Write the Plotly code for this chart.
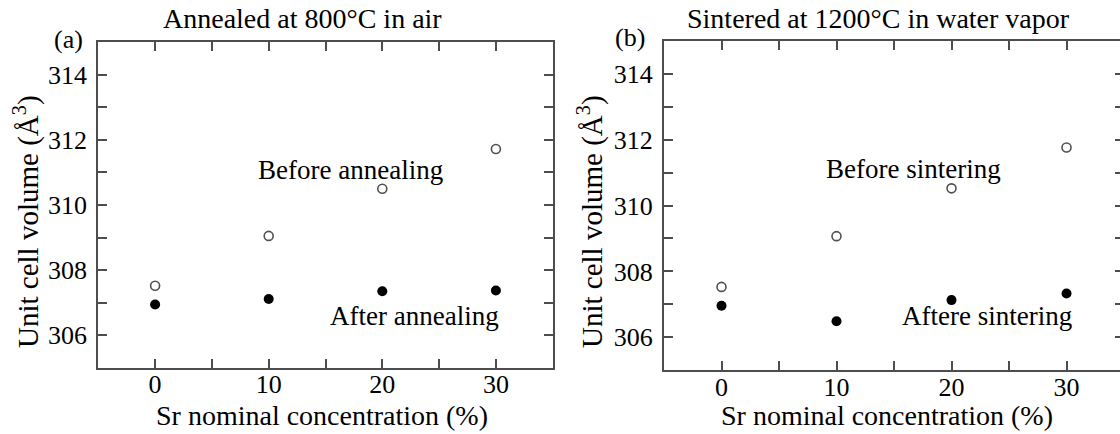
import plotly.graph_objects as go

# ---- data ----
sr_conc = [0, 10, 20, 30]
a_before = [307.52, 309.05, 310.50, 311.72]
a_after = [306.94, 307.11, 307.35, 307.37]
b_before = [307.53, 309.07, 310.52, 311.76]
b_after = [306.96, 306.49, 307.13, 307.33]

x_ticks = [0, 10, 20, 30]
y_ticks = [306, 308, 310, 312, 314]

titles = ["Annealed at 800°C in air", "Sintered at 1200°C in water vapor"]
panel_tags = ["(a)", "(b)"]
x_title = "Sr nominal concentration (%)"
y_title = "Unit cell volume (Å<sup>3</sup>)"
a_labels = ["Before annealing", "After annealing"]
b_labels = ["Before sintering", "Aftere sintering"]

W, H = 1120, 434
FONT = "Liberation Serif, Times New Roman, serif"
AX = "#4d4d4d"

def px(x):
    return x / W

def py(y):
    return 1 - y / H

fig = go.Figure()

open_m = dict(symbol="circle-open", size=9, color="#505050", line=dict(width=1.6, color="#505050"))
fill_m = dict(symbol="circle", size=10, color="black")

fig.add_trace(go.Scatter(x=sr_conc, y=a_before, mode="markers", marker=open_m, xaxis="x", yaxis="y"))
fig.add_trace(go.Scatter(x=sr_conc, y=a_after, mode="markers", marker=fill_m, xaxis="x", yaxis="y"))
fig.add_trace(go.Scatter(x=sr_conc, y=b_before, mode="markers", marker=open_m, xaxis="x2", yaxis="y2"))
fig.add_trace(go.Scatter(x=sr_conc, y=b_after, mode="markers", marker=fill_m, xaxis="x2", yaxis="y2"))
fig.add_trace(go.Scatter(x=[], y=[], xaxis="x2", yaxis="y3", showlegend=False, hoverinfo="skip"))

tickfont = dict(family=FONT, size=26, color="black")

def xax(domain, rng, anchor, mirror):
    return dict(domain=domain, range=rng, anchor=anchor, showline=True, linecolor=AX, linewidth=2,
                mirror=mirror, ticks="inside", ticklen=9, tickwidth=2, tickcolor=AX,
                tickvals=x_ticks, tickfont=tickfont, showgrid=False, zeroline=False,
                minor=dict(dtick=5, tick0=0, ticks="inside", ticklen=9, tickwidth=2, tickcolor=AX, showgrid=False),
                ticklabelstandoff=-8)

def yax(domain, anchor, mirror):
    return dict(domain=domain, range=[305, 315], anchor=anchor, showline=True, linecolor=AX, linewidth=2,
                mirror=mirror, ticks="inside", ticklen=9, tickwidth=2, tickcolor=AX,
                tickvals=y_ticks, tickfont=tickfont, showgrid=False, zeroline=False,
                minor=dict(dtick=1, tick0=305, ticks="inside", ticklen=9, tickwidth=2, tickcolor=AX, showgrid=False),
                ticklabelstandoff=4)

fig.update_layout(
    width=W, height=H,
    margin=dict(l=0, r=0, t=0, b=0),
    paper_bgcolor="white", plot_bgcolor="white",
    showlegend=False,
    font=dict(family=FONT, color="black"),
    xaxis=xax([px(98.3), px(552.7)], [-5, 35], "y", "ticks"),
    yaxis=yax([py(367.7), py(42.3)], "x", "ticks"),
    xaxis2=xax([px(664), 1.0], [-5, 34.65], "y2", "ticks"),
    yaxis2=yax([py(370.3), py(40.7)], "x2", False),
    yaxis3=dict(overlaying="y2", side="right", anchor="x2", range=[305, 315], showline=False,
                ticks="inside", ticklen=5, tickwidth=2, tickcolor=AX, tickvals=list(range(305, 316)),
                showticklabels=False, showgrid=False, zeroline=False),
)

ann = []
for t, xc in zip(titles, [302.7, 878]):
    ann.append(dict(text=t, x=px(xc), y=py(19), xref="paper", yref="paper", showarrow=False,
                    xanchor="center", yanchor="middle", font=dict(family=FONT, size=28, color="black")))
for t, (xc, yc) in zip(panel_tags, [(68, 39), (630, 38)]):
    ann.append(dict(text=t, x=px(xc), y=py(yc), xref="paper", yref="paper", showarrow=False,
                    xanchor="center", yanchor="middle", font=dict(family=FONT, size=26, color="black")))
for xc in [26, 590]:
    ann.append(dict(text=y_title, x=px(xc), y=py(222), xref="paper", yref="paper", showarrow=False,
                    textangle=-90, xanchor="center", yanchor="middle",
                    font=dict(family=FONT, size=29, color="black")))
for xc in [322, 887]:
    ann.append(dict(text=x_title, x=px(xc), y=py(415), xref="paper", yref="paper", showarrow=False,
                    xanchor="center", yanchor="middle", font=dict(family=FONT, size=28, color="black")))
for t, (xd, yd) in zip(a_labels, [(17.2, 311.09), (22.87, 306.59)]):
    ann.append(dict(text=t, x=xd, y=yd, xref="x", yref="y", showarrow=False,
                    xanchor="center", yanchor="middle", font=dict(family=FONT, size=27, color="black")))
for t, (xd, yd) in zip(b_labels, [(16.71, 311.11), (23.06, 306.66)]):
    ann.append(dict(text=t, x=xd, y=yd, xref="x2", yref="y2", showarrow=False,
                    xanchor="center", yanchor="middle", font=dict(family=FONT, size=27, color="black")))
fig.update_layout(annotations=ann)

fig.write_html("out.html", config={"displayModeBar": False},
               post_script="document.body.style.margin='0';")
